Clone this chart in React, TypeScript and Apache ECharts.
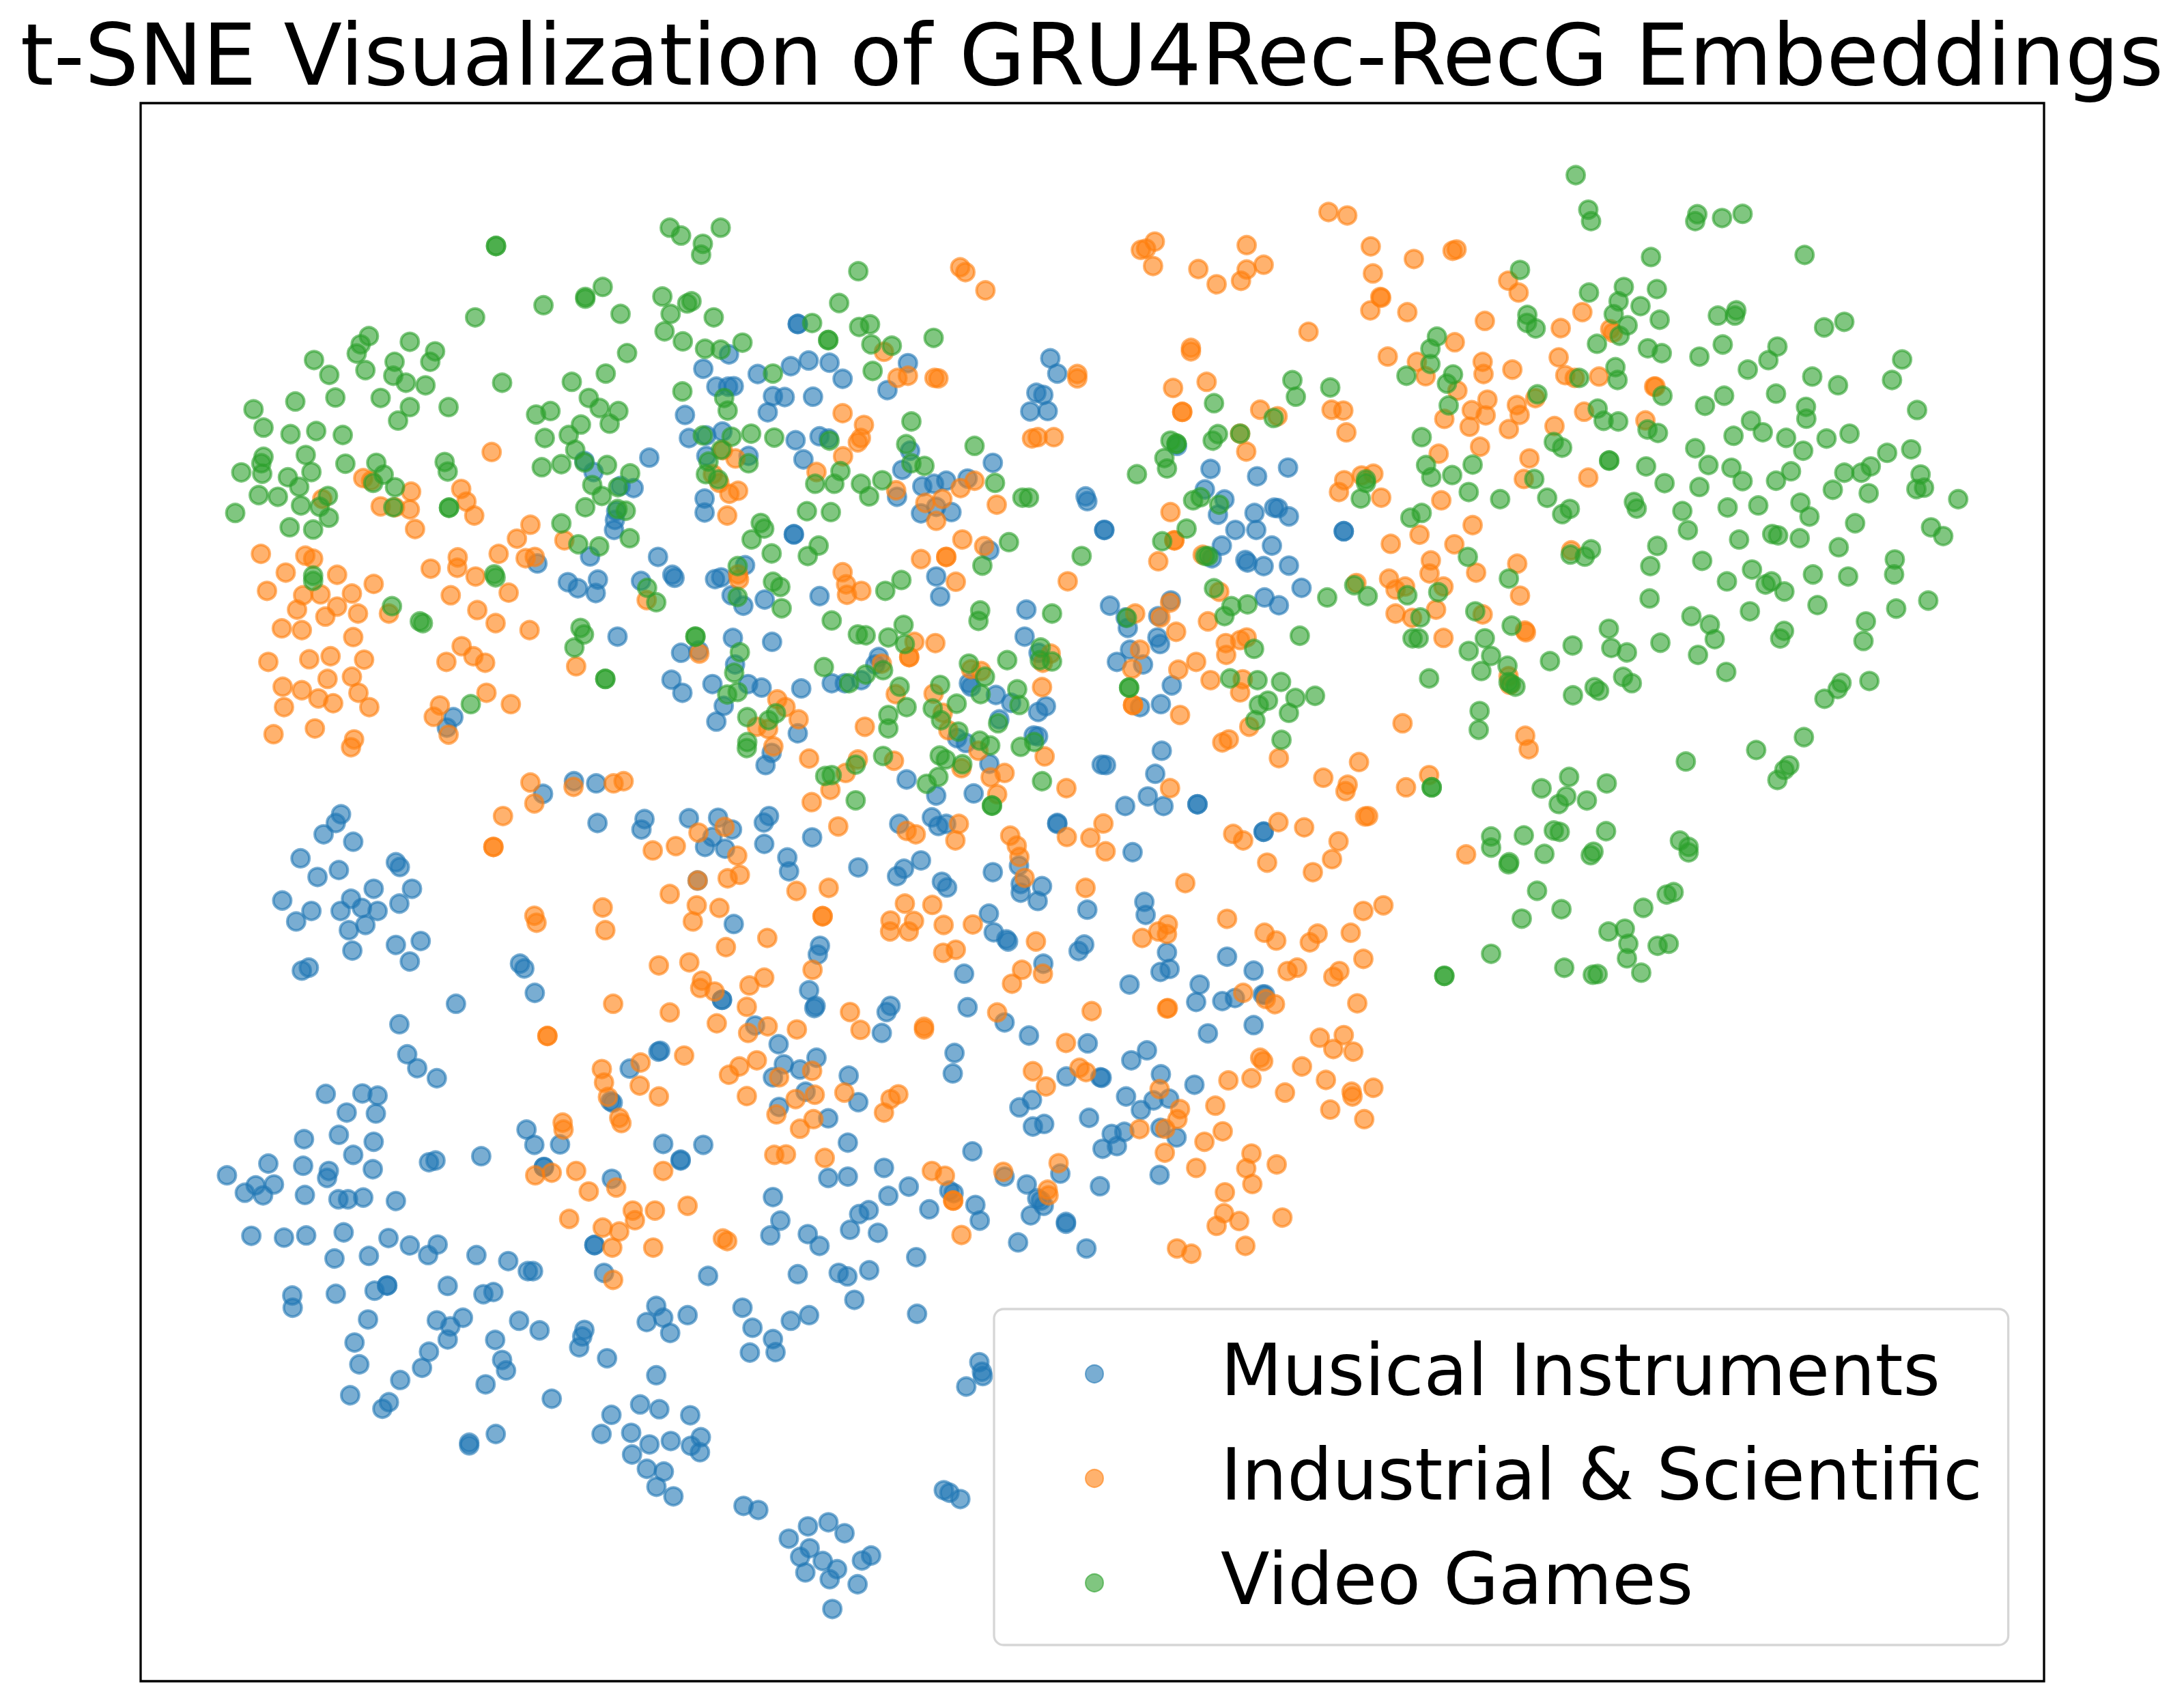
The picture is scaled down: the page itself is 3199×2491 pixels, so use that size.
import React, { useEffect, useRef } from "react";
import * as echarts from "echarts";

type P = [number, number];
const seriesNames = ["Musical Instruments", "Industrial & Scientific", "Video Games"];
const titleText = "t-SNE Visualization of GRU4Rec-RecG Embeddings";

const cropA = { x: 180, y: 130, sx: 1.568, sy: 1.568 };
const cropB = { x: 1180, y: 130, sx: 1.568, sy: 1.568 };
const cropC = { x: 2180, y: 130, sx: 1.96, sy: 1.96 };
const cropD = { x: 2180, y: 930, sx: 1.96, sy: 1.96 };
const cropE = { x: 180, y: 1130, sx: 1.568, sy: 1.568 };
const cropF = { x: 1180, y: 1130, sx: 1.568, sy: 1.568 };
const cropG = { x: 480, y: 1930, sx: 1.568, sy: 3 };

const blueA: P[] = [[1550,540],[1550,540],[1392,610],[1333,643],[1458,655],[1534,637],[1363,684],[1390,684],[1403,683],[1493,706],[1520,708],[1481,743],[1291,749],[1300,802],[1340,796],[1377,787],[1545,807],[1340,843],[1437,843],[1563,851],[1060,855],[1081,880],[1209,847],[1143,912],[1173,917],[1336,941],[1336,973],[1133,970],[1130,990],[1128,1013],[1541,1023],[1541,1023],[1073,1074],[1229,1075],[1429,1094],[952,1090],[1022,1133],[1045,1147],[1091,1127],[1086,1158],[1190,1130],[1262,1116],[1267,1123],[1360,1126],[1374,1122],[1398,1163],[1425,1187],[1474,1173],[1136,1258],[1401,1261],[1491,1270],[1282,1295],[1322,1290],[1406,1322],[1260,1357],[1285,1387],[1354,1367],[1436,1367],[1467,1375],[1558,1377],[1380,1417],[1363,1453],[1550,1480],[759,1443],[744,1467],[1490,1525],[1476,1553]];
const orangeA: P[] = [[847,834],[552,894],[570,900],[458,942],[662,925],[777,919],[789,948],[807,980],[592,959],[625,961],[659,966],[671,1011],[936,1001],[905,1033],[1014,1037],[863,1068],[925,1078],[946,1075],[769,1076],[768,1100],[707,1102],[810,1120],[317,1068],[419,1072],[437,1079],[374,1111],[492,1116],[331,1153],[414,1163],[454,1161],[526,1159],[576,1137],[400,1196],[492,1189],[465,1212],[540,1205],[611,1205],[365,1239],[411,1243],[529,1259],[753,1163],[886,1157],[814,1197],[856,1227],[934,1243],[1203,1174],[778,1280],[805,1303],[832,1318],[743,1316],[334,1316],[428,1310],[477,1303],[554,1311],[1041,1326],[1324,1297],[470,1355],[526,1350],[367,1373],[411,1381],[449,1400],[483,1411],[541,1387],[566,1420],[370,1420],[835,1387],[891,1413],[728,1416],[714,1442],[346,1482],[441,1469],[531,1494],[524,1512],[748,1483],[1378,830],[1407,849],[1355,885],[1370,905],[1393,930],[1413,923],[1388,980],[1413,1115],[1415,1127],[1503,1402],[1522,1420],[1552,1448],[1456,1465],[1482,1470],[1494,1510]];
const greenA: P[] = [[1256,319],[1282,337],[1332,356],[1328,381],[1373,319],[857,361],[857,361],[1102,455],[1062,478],[1062,482],[966,497],[809,525],[1143,517],[1239,477],[1296,493],[1306,488],[1258,517],[1357,525],[1244,557],[1286,580],[1337,597],[1373,599],[1423,583],[1158,607],[565,568],[546,587],[537,608],[659,581],[717,603],[706,627],[439,623],[474,657],[557,646],[624,627],[621,659],[650,675],[695,681],[871,675],[1109,654],[1031,673],[1493,654],[396,718],[488,709],[592,710],[300,736],[659,731],[748,731],[632,762],[1070,710],[1095,733],[1138,740],[949,748],[982,740],[1118,769],[1052,771],[1285,695],[1381,710],[1389,739],[323,778],[385,793],[444,786],[505,795],[1024,795],[969,802],[1039,829],[1332,796],[1398,799],[1443,792],[1496,801],[323,845],[318,860],[320,884],[420,841],[511,861],[272,881],[379,892],[433,880],[582,859],[599,886],[575,905],[625,915],[739,857],[746,879],[1007,862],[962,869],[1112,864],[1060,858],[1165,883],[1078,910],[1137,915],[1100,935],[1374,829],[1345,856],[1339,885],[1367,897],[1437,860],[405,914],[312,933],[356,937],[471,935],[409,957],[452,960],[473,985],[258,974],[383,1007],[437,1012],[621,961],[749,962],[749,962],[1062,961],[1136,965],[1155,969],[1007,998],[1465,997],[1473,1010],[1444,1035],[1164,1032],[1046,1046],[1094,1051],[1490,1067],[1412,1096],[1493,1132],[1510,1144],[853,1115],[856,1122],[437,1118],[437,1130],[1204,1146],[1225,1179],[1412,1167],[1513,1193],[618,1188],[682,1223],[689,1227],[1051,1238],[1059,1253],[1037,1283],[1315,1258],[1315,1258],[1417,1294],[1404,1341],[1108,1355],[1108,1355],[1388,1391],[1412,1385],[799,1413],[1434,1443],[1500,1434],[1483,1450],[1434,1500],[1433,1514]];

const blueB: P[] = [[55,629],[7,624],[85,666],[235,630],[17,707],[188,692],[32,798],[53,803],[240,831],[222,875],[562,619],[578,654],[530,698],[546,703],[516,741],[556,740],[430,859],[372,895],[323,900],[295,907],[268,913],[210,937],[265,975],[335,972],[300,960],[643,936],[647,947],[686,1013],[686,1013],[422,1060],[300,1120],[32,1165],[309,1166],[507,1196],[503,1258],[535,1295],[168,1305],[160,1322],[60,1365],[90,1365],[128,1358],[375,1365],[380,1373],[437,1392],[472,1410],[534,1431],[552,1418],[445,1448],[524,1485],[534,1487],[348,1491],[368,1502],[422,1550],[853,820],[930,873],[1037,890],[1108,870],[917,920],[962,943],[947,978],[1031,974],[1076,962],[1085,963],[1110,982],[987,1013],[1035,1013],[1071,1049],[956,1049],[1010,1082],[1015,1088],[1052,1096],[1110,1095],[933,1078],[1236,1016],[1236,1016],[1139,1146],[1054,1168],[1087,1186],[839,1175],[699,1187],[810,1211],[735,1214],[740,1238],[808,1260],[814,1275],[745,1288],[715,1316],[775,1322],[841,1370],[816,1413],[768,1420],[818,1520],[680,1552],[690,1553]];
const orangeB: P[] = [[355,410],[367,421],[413,463],[180,604],[211,664],[235,659],[296,664],[305,665],[85,745],[134,772],[127,802],[120,812],[86,844],[25,880],[208,922],[388,900],[356,917],[275,951],[314,942],[300,992],[439,955],[360,1035],[410,1050],[265,1080],[323,1075],[323,1075],[345,1132],[85,1110],[93,1138],[95,1162],[128,1153],[250,1270],[298,1273],[238,1305],[238,1305],[563,1297],[545,1318],[175,1320],[380,1333],[403,1337],[543,1374],[294,1389],[207,1390],[315,1433],[136,1465],[328,1473],[8,1538],[120,1540],[203,1543],[397,1520],[549,1533],[358,1560],[602,1131],[624,655],[624,665],[520,803],[533,800],[570,800],[770,370],[782,367],[802,351],[798,407],[902,414],[944,449],[1000,441],[1013,415],[1052,404],[1013,359],[1201,283],[1244,291],[1298,362],[1397,391],[1303,424],[1320,478],[1322,480],[1297,509],[1382,513],[1486,372],[1495,369],[1155,558],[1560,533],[1491,582],[885,595],[885,603],[1337,615],[1404,627],[1424,660],[1555,627],[1557,655],[844,687],[921,673],[865,742],[865,742],[1044,737],[1084,752],[1208,737],[1235,739],[1497,693],[1530,738],[1566,714],[1562,750],[1242,789],[1467,758],[1525,776],[1012,833],[998,792],[1549,822],[1454,838],[1237,899],[1225,926],[1277,888],[1304,884],[1322,939],[1460,945],[838,972],[847,1037],[847,1037],[810,1085],[912,1070],[1344,1045],[1410,1024],[1532,1002],[1490,1046],[1436,1083],[1433,1113],[1540,1111],[1340,1125],[1355,1150],[1377,1143],[1465,1143],[950,1155],[1265,1135],[1448,1196],[1355,1205],[1393,1215],[1555,1207],[757,1205],[815,1214],[837,1180],[924,1223],[851,1247],[965,1273],[998,1266],[1013,1260],[1465,1261],[768,1288],[966,1300],[897,1316],[856,1334],[750,1332],[1004,1356],[930,1358],[998,1386],[752,1415],[752,1415],[860,1438],[1019,1465],[957,1501],[972,1494],[1371,1457],[1087,1537],[1271,1546]];
const greenB: P[] = [[121,419],[77,492],[15,538],[123,547],[148,541],[52,577],[52,577],[151,587],[198,590],[294,572],[154,648],[243,764],[231,816],[243,860],[273,866],[55,808],[388,820],[80,878],[66,907],[22,907],[127,907],[176,899],[146,936],[58,972],[3,970],[435,905],[498,939],[513,939],[30,1049],[5,1073],[467,1041],[406,1095],[634,1073],[220,1128],[183,1153],[401,1198],[397,1222],[60,1221],[566,1205],[225,1231],[120,1253],[138,1255],[190,1260],[228,1275],[540,1283],[538,1312],[566,1315],[463,1312],[42,1328],[138,1345],[178,1335],[100,1365],[375,1320],[412,1350],[216,1373],[309,1369],[486,1379],[402,1390],[347,1412],[232,1420],[292,1423],[491,1415],[190,1438],[190,1469],[311,1450],[351,1476],[442,1457],[400,1497],[424,1508],[494,1511],[525,1500],[178,1532],[308,1531],[322,1540],[360,1551],[115,1552],[838,808],[852,815],[852,815],[947,793],[935,808],[998,792],[1118,669],[1126,707],[1205,686],[938,722],[1075,756],[824,848],[830,872],[761,885],[1287,897],[1287,905],[1275,941],[890,945],[907,938],[950,955],[875,1010],[819,1039],[918,1073],[925,1073],[1415,800],[1380,659],[1435,632],[1435,597],[1450,569],[1487,656],[1473,677],[1477,727],[1425,864],[1437,892],[1485,887],[1532,863],[1523,926],[1389,985],[1415,974],[1521,1075],[1260,1140],[1291,1165],[1198,1168],[938,1147],[978,1188],[1015,1184],[962,1211],[1382,1163],[1453,1156],[1412,1214],[1538,1200],[1135,1256],[1030,1286],[1394,1262],[1408,1262],[1523,1291],[1432,1354],[975,1354],[1038,1358],[1092,1362],[1170,1394],[1125,1399],[1041,1415],[1062,1405],[1110,1433],[1033,1450],[1093,1495],[1548,1429],[1546,1472],[738,1215],[743,1375],[743,1375],[1552,1337],[1560,1262]];

const orangeC: P[] = [[57,551],[87,585],[270,641],[208,687],[350,690],[358,700],[202,771],[69,806],[221,822],[248,830],[318,826],[476,855],[480,855],[135,888],[82,908],[90,936],[275,927],[59,977],[190,968],[451,952],[118,1061],[102,1120],[287,1116],[238,1325],[83,1363],[91,1455],[105,1555],[108,1560]];
const greenC: P[] = [[251,248],[287,347],[295,380],[600,360],[594,380],[671,371],[730,359],[467,483],[908,477],[91,520],[289,585],[389,569],[374,610],[484,575],[360,647],[437,624],[492,663],[112,649],[111,672],[136,688],[400,679],[377,709],[659,651],[712,636],[708,651],[964,685],[1022,669],[312,732],[458,745],[498,759],[606,769],[673,734],[830,740],[804,779],[745,806],[1188,777],[1159,836],[930,826],[1004,851],[365,799],[371,836],[261,830],[141,877],[500,881],[826,875],[677,881],[622,910],[912,913],[913,947],[1231,922],[314,918],[331,953],[373,955],[754,953],[788,986],[704,996],[855,1002],[971,1004],[1037,990],[457,978],[487,988],[904,1039],[594,1032],[1145,1045],[1214,1035],[188,1014],[212,1030],[347,1067],[347,1067],[632,1080],[698,1088],[453,1084],[869,1098],[1098,1084],[1071,1102],[1022,1102],[1241,1107],[1229,1149],[1251,1145],[826,1125],[730,1126],[506,1132],[132,1120],[606,1143],[989,1151],[1092,1161],[1349,1178],[34,1178],[169,1174],[234,1206],[212,1221],[418,1186],[426,1205],[557,1212],[687,1202],[775,1196],[896,1188],[922,1228],[1053,1247],[573,1267],[1271,1259],[1306,1284],[815,1278],[832,1282],[894,1290],[720,1294],[1006,1316],[295,1322],[236,1337],[277,1343],[485,1312],[1167,1351],[1165,1394],[614,1355],[465,1370],[757,1380],[932,1394],[1033,1400],[59,1406],[685,1414],[796,1423],[813,1414],[850,1443],[463,1463],[945,1482],[1263,1469],[751,1500],[1171,1492],[583,1514],[636,1538],[1084,1529],[67,1541],[346,1550],[849,1556]];

const orangeD: P[] = [[58,118],[62,143],[106,289],[116,328]];
const greenD: P[] = [[242,30],[353,37],[398,50],[494,22],[602,57],[650,12],[683,106],[838,10],[1077,17],[8,60],[55,88],[177,75],[58,135],[78,148],[65,140],[243,173],[305,150],[318,160],[387,120],[412,138],[1014,137],[1003,155],[965,183],[1094,132],[906,293],[769,330],[567,363],[864,374],[850,387],[830,416],[232,407],[340,426],[153,440],[224,463],[202,485],[283,475],[8,578],[102,575],[188,561],[205,565],[338,563],[8,610],[161,628],[550,590],[575,608],[575,624],[302,622],[294,632],[60,652],[58,658],[140,734],[532,738],[512,745],[445,783],[210,787],[96,814],[345,851],[392,843],[402,886],[486,892],[518,886],[398,928],[8,915],[218,955],[300,975],[314,973],[439,969]];

const blueE: P[] = [[1036,22],[1087,27],[965,51],[501,98],[489,118],[461,144],[529,161],[408,199],[627,208],[636,219],[496,226],[447,242],[576,269],[664,269],[366,296],[524,292],[500,320],[549,313],[585,320],[635,303],[433,320],[398,344],[557,352],[519,364],[627,398],[684,389],[527,411],[659,436],[427,450],[411,457],[912,441],[922,452],[946,508],[765,533],[635,580],[653,649],[676,681],[721,704],[466,740],[550,739],[585,744],[514,783],[581,785],[1090,118],[1198,109],[1191,133],[1300,107],[1367,106],[1399,133],[1354,150],[1337,173],[1383,177],[1484,102],[1472,117],[1473,166],[1526,197],[1530,229],[1320,250],[1403,350],[1376,524],[1376,524],[1452,583],[1506,626],[1518,672],[1493,702],[1555,684],[1507,770],[1164,682],[1230,643],[1234,641],[1125,760],[1120,757],[927,822],[945,857],[1004,856],[1241,855],[1333,857],[1281,891],[1281,893],[496,834],[416,844],[576,850],[529,880],[334,900],[414,905],[574,913],[473,917],[469,933],[239,927],[305,950],[347,948],[280,967],[322,973],[418,972],[495,982],[517,982],[552,978],[627,986],[703,897],[718,893],[823,883],[967,908],[967,908],[1123,935],[1493,977],[1510,1031],[1487,1065],[295,1066],[370,1070],[421,1065],[507,1058],[610,1071],[659,1088],[723,1086],[701,1110],[486,1118],[565,1112],[812,1110],[885,1124],[930,1147],[942,1147],[1083,1087],[1083,1087],[1105,1151],[1344,1158],[1550,1154],[389,1203],[390,1231],[489,1199],[578,1192],[607,1180],[607,1180],[746,1181],[828,1200],[851,1195],[1225,1227],[1423,1231],[563,1258],[721,1260],[752,1274],[781,1254],[910,1261],[957,1283],[1060,1282],[1055,1297],[1048,1322],[1203,1264],[1241,1254],[1297,1248],[1257,1289],[1534,1261],[1446,1277],[532,1311],[746,1304],[855,1305],[1493,1303],[1440,1334],[1499,1333],[703,1332],[687,1369],[871,1351],[880,1375],[543,1361],[1112,1347],[1225,1386],[637,1397],[833,1407],[522,1432],[611,1448],[596,1463],[985,1440],[1188,1453],[1232,1464],[1122,1477],[1303,1478]];
const orangeE: P[] = [[936,25],[1035,35],[1127,27],[1150,22],[945,73],[873,102],[851,173],[851,173],[1322,140],[1382,127],[1270,171],[1217,181],[1411,193],[1417,237],[1389,245],[1320,250],[1256,281],[1547,274],[945,331],[950,347],[1102,312],[1108,364],[1318,307],[1370,313],[1309,344],[1480,382],[1385,403],[1231,445],[1301,438],[1330,480],[1326,497],[1359,505],[1439,491],[1473,473],[1126,533],[1256,553],[1433,540],[1364,578],[1481,585],[1436,600],[1548,592],[975,607],[975,607],[1289,652],[1456,663],[1416,677],[1392,696],[1507,702],[1189,668],[1100,683],[1105,714],[1187,721],[1114,747],[1231,746],[1433,745],[1545,752],[1140,795],[1145,807],[1501,787],[1555,820],[1010,806],[1012,822],[947,927],[985,921],[1041,917],[1241,917],[1133,955],[1070,964],[1496,880],[1523,879],[1297,997],[1171,1008],[1222,1008],[1176,1030],[1025,1027],[1102,1047],[1140,1056],[1378,1072],[1388,1078],[1124,1093],[1218,1093],[1126,1167]];

const blueF: P[] = [[232,18],[300,55],[386,50],[803,5],[786,57],[734,79],[822,79],[900,75],[900,75],[578,118],[578,120],[215,120],[290,105],[305,125],[323,120],[15,151],[1052,138],[1052,138],[751,185],[121,220],[265,204],[226,223],[210,240],[430,231],[490,216],[313,253],[325,266],[494,258],[494,278],[543,263],[533,297],[647,317],[778,299],[781,329],[421,326],[432,369],[461,385],[465,390],[33,400],[28,420],[640,397],[627,412],[830,415],[815,460],[836,453],[968,425],[546,441],[364,464],[1029,457],[744,489],[905,489],[8,502],[23,538],[20,543],[195,538],[186,552],[372,541],[897,529],[957,527],[986,520],[1050,512],[1055,512],[457,576],[175,600],[513,606],[924,601],[1029,582],[648,624],[342,646],[784,640],[748,663],[25,657],[99,698],[338,693],[816,695],[599,700],[677,702],[680,703],[893,719],[0,735],[121,759],[520,754],[736,746],[799,755],[835,751],[770,777],[491,771],[52,796],[651,795],[522,815],[548,809],[815,818],[703,832],[732,827],[852,840],[715,860],[682,866],[97,852],[383,872],[180,910],[52,933],[97,930],[585,923],[813,926],[457,930],[508,948],[676,952],[237,953],[330,962],[340,968],[190,974],[532,980],[547,997],[540,985],[390,995],[284,1005],[145,1007],[123,1016],[400,1031],[517,1019],[598,1034],[598,1038],[102,1052],[166,1059],[5,1062],[32,1089],[488,1081],[645,1095],[254,1115],[146,1145],[76,1151],[96,1159],[112,1213],[8,1248],[256,1245],[399,1356],[405,1378],[407,1388],[369,1412]];
const orangeF: P[] = [[14,70],[57,42],[92,3],[425,13],[457,3],[440,52],[599,38],[837,38],[1189,14],[1245,30],[1240,45],[1379,36],[1432,8],[1285,103],[1292,102],[75,126],[232,136],[253,144],[352,120],[344,158],[470,147],[485,170],[491,196],[600,150],[654,152],[684,119],[689,183],[982,143],[1005,158],[1086,116],[1145,128],[1224,160],[1060,209],[1209,201],[1165,231],[1517,190],[872,256],[53,267],[503,244],[643,267],[228,303],[291,306],[39,332],[39,332],[195,342],[249,343],[194,367],[237,367],[317,352],[384,351],[968,338],[1281,320],[1327,307],[832,351],[810,367],[830,373],[773,382],[1054,370],[1081,388],[1176,372],[1158,392],[1252,370],[529,390],[316,416],[345,409],[1281,430],[1107,458],[1129,450],[1226,458],[1212,471],[16,455],[497,455],[545,464],[474,487],[1005,508],[1057,522],[1078,534],[1267,532],[102,552],[657,550],[440,553],[126,593],[272,586],[272,592],[830,544],[832,543],[1181,611],[1236,605],[1212,637],[1258,643],[598,623],[1044,657],[1051,665],[1140,677],[629,680],[644,690],[522,688],[15,687],[1024,704],[1195,708],[971,709],[552,723],[1304,726],[1254,735],[1256,746],[89,737],[213,741],[195,752],[21,742],[813,729],[1101,737],[941,767],[180,783],[860,775],[854,798],[1205,776],[1283,798],[18,798],[767,821],[826,820],[958,826],[916,850],[825,875],[1024,877],[44,887],[1082,902],[1012,911],[897,910],[290,917],[320,928],[454,919],[581,899],[1026,947],[556,960],[558,973],[963,966],[339,985],[339,985],[961,1014],[996,1032],[944,1043],[1095,1024],[358,1064],[853,1095],[886,1107],[1010,1089]];
const greenF: P[] = [[45,10],[60,8],[278,28],[305,12],[543,22],[115,66],[428,78],[428,78],[1438,36],[1438,36],[1467,469],[1467,469]];

const blueG: P[] = [[386,510],[325,548],[325,560],[629,510],[697,505],[739,556],[788,541],[834,562],[857,524],[855,590],[699,600],[733,663],[772,675],[755,742],[794,784],[955,826],[989,844],[1103,916],[1150,898],[1187,946],[1059,970],[1107,1012],[1085,1050],[1137,1068],[1170,1104],[1227,1066],[1248,1044],[1097,1118],[1153,1148],[1217,1170],[1159,1279],[1415,757],[1428,768],[1453,796]];

type Crop = { x: number; y: number; sx: number; sy: number };
const place = (crop: Crop, pts: P[]): P[] => pts.map(([a, b]) => [crop.x + a / crop.sx, crop.y + b / crop.sy]);

const blueValues = [...place(cropA, blueA), ...place(cropB, blueB), ...place(cropE, blueE), ...place(cropF, blueF), ...place(cropG, blueG)];
const orangeValues = [...place(cropA, orangeA), ...place(cropB, orangeB), ...place(cropC, orangeC), ...place(cropD, orangeD), ...place(cropE, orangeE), ...place(cropF, orangeF)];
const greenValues = [...place(cropA, greenA), ...place(cropB, greenB), ...place(cropC, greenC), ...place(cropD, greenD), ...place(cropF, greenF)];

const mk = (name: string, data: P[], rgb: string) => ({
  name,
  type: "scatter",
  data,
  symbol: "circle",
  symbolSize: 26,
  itemStyle: { color: `rgba(${rgb},0.6)`, borderColor: `rgba(${rgb},0.6)`, borderWidth: 4, opacity: 1 },
  silent: true,
  clip: false,
});

export default function App() {
  const ref = useRef<HTMLDivElement>(null);
  useEffect(() => {
    document.body.style.margin = "0";
    document.body.style.overflow = "hidden";
    const chart = echarts.init(ref.current!, null, { renderer: "svg" });
    chart.setOption({
      animation: false,
      backgroundColor: "#fff",
      title: {
        text: titleText,
        left: "center",
        top: 18,
        padding: 0,
        textStyle: { fontFamily: "DejaVu Sans", fontWeight: "normal", fontSize: 125, color: "#000" },
      },
      grid: { left: 206, top: 151, width: 2788, height: 2311, show: true, borderColor: "#000", borderWidth: 3.3, backgroundColor: "transparent" },
      xAxis: { type: "value", min: 206, max: 2994, axisLabel: { show: false }, axisTick: { show: false }, axisLine: { show: false }, splitLine: { show: false } },
      yAxis: { type: "value", inverse: true, min: 151, max: 2462, axisLabel: { show: false }, axisTick: { show: false }, axisLine: { show: false }, splitLine: { show: false } },
      legend: {
        data: seriesNames,
        orient: "vertical",
        left: 1456,
        top: 1917,
        padding: [37, 38, 33, 133],
        itemGap: 37,
        itemWidth: 26,
        itemHeight: 26,
        align: "left",
        icon: "circle",
        selectedMode: false,
        backgroundColor: "rgba(255,255,255,0.8)",
        borderColor: "rgba(204,204,204,0.8)",
        borderWidth: 3.3,
        borderRadius: 14,
        formatter: (name: string) => `{a|${name}}{s|}`,
        textStyle: {
          fontFamily: "DejaVu Sans",
          fontSize: 104.6,
          color: "#000",
          padding: [0, 0, 0, 167],
          rich: {
            a: { fontFamily: "DejaVu Sans", fontSize: 104.6, color: "#000", lineHeight: 100, verticalAlign: "top" },
            s: { width: 0, height: 116, lineHeight: 116 },
          },
        },
      },
      series: [
        mk(seriesNames[0], blueValues, "31,119,180"),
        mk(seriesNames[1], orangeValues, "255,127,14"),
        mk(seriesNames[2], greenValues, "44,160,44"),
      ],
    });
    return () => chart.dispose();
  }, []);
  return <div ref={ref} style={{ width: 3199, height: 2491 }} />;
}
